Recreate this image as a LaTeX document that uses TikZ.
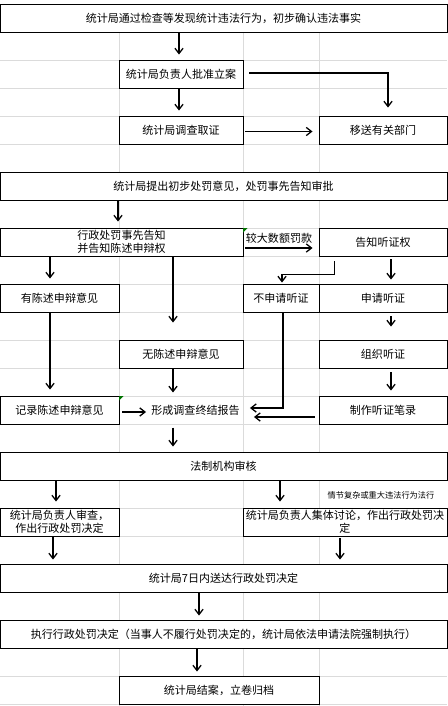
\documentclass[tikz,border=0pt]{standalone}
\usepackage{fontspec}
\setmainfont{Noto Sans CJK SC}
\usetikzlibrary{arrows.meta,calc}
\tikzset{
  box/.style={draw=black,line width=0.8pt,fill=white,inner sep=1pt,align=center,minimum height=0.84cm},
  arr/.style={-{Straight Barb[length=4.5pt,width=7pt]},line width=1.1pt},
  gridline/.style={draw=gray!28,line width=0.5pt},
  note/.style={font=\fontsize{7}{8}\selectfont,inner sep=1pt},
}
\begin{document}
\begin{tikzpicture}[x=0.03cm,y=-0.03cm, every node/.style={font=\fontsize{9.4}{11}\selectfont}]
\useasboundingbox (0,0) rectangle (447,706);
% sheet grid
\foreach \r in {0,...,25} \draw[gridline] (0,4+28*\r) -- (447,4+28*\r);
\foreach \c in {119,243,319} \draw[gridline] (\c,4) -- (\c,706);
% case filing
\node[box,minimum width=13.41cm] (discover) at (223.5,18) {统计局通过检查等发现统计违法行为，初步确认违法事实};
\node[box,minimum width=3.72cm] (approve) at (181,74) {统计局负责人批准立案};
\node[box,minimum width=3.72cm] (investigate) at (181,130) {统计局调查取证};
\node[box,minimum width=3.84cm] (transfer) at (383,130) {移送有关部门};
\draw[arr] ($(discover.south)+(-44.5,0)$) -- ($(approve.north)+(-2,-5)$);
\draw[arr] ($(approve.east)+(6,-1)$) -| ($(transfer.north)+(5,-8)$);
\draw[arr] ($(approve.south)+(-2,0)$) -- ($(investigate.north)+(-2,-5)$);
\draw[arr] ($(investigate.east)+(2,1.5)$) -- ($(transfer.west)+(-6,1.5)$);
% prior notice
\node[box,minimum width=13.41cm] (propose) at (223.5,186) {统计局提出初步处罚意见，处罚事先告知审批};
\node[box,minimum width=7.29cm] (notify) at (121.5,242) {行政处罚事先告知\\并告知陈述申辩权};
\node[box,minimum width=3.84cm] (hearingright) at (383,242) {告知听证权};
\node[box,minimum width=3.57cm] (statement) at (59.5,298) {有陈述申辩意见};
\node[box,minimum width=2.28cm] (nohearing) at (281,298) {不申请听证};
\node[box,minimum width=3.84cm] (applyhearing) at (383,298) {申请听证};
\node[box,minimum width=3.72cm] (nostatement) at (181,354) {无陈述申辩意见};
\node[box,minimum width=3.84cm] (organize) at (383,354) {组织听证};
\node[box,minimum width=3.57cm] (record) at (59.5,410) {记录陈述申辩意见};
\node[inner sep=1pt] (report) at (195.5,410) {形成调查终结报告};
\node[box,minimum width=3.84cm] (hearingrecord) at (383,410) {制作听证笔录};
\draw[arr] ($(propose.south)+(-105.5,0)$) -- ($(notify.north)+(-3.5,-6)$);
\draw[arr] ($(notify.east)+(2,6)$) -- node[above] (largefine) {较大数额罚款} ($(hearingright.west)+(-6,6)$);
\draw[arr] ($(notify.south)+(-71.5,0)$) -- ($(statement.north)+(-9.5,-5)$);
\draw[arr] ($(notify.south)+(51.5,0)$) -- ($(nostatement.north)+(-8,-17)$);
\draw[arr] ($(hearingright.south west)+(16,5)$) |- ($(nohearing.north)+(1,-9)$) -- ($(nohearing.north)+(1,-1)$);
\draw[arr] ($(hearingright.south)+(8,3)$) -- ($(applyhearing.north)+(8,-4)$);
\draw[arr] ($(applyhearing.south)+(8,4)$) -- ($(organize.north)+(8,-13)$);
\draw[arr] ($(organize.south)+(8,4)$) -- ($(hearingrecord.north)+(8,-5)$);
\draw[arr] ($(statement.south)+(-9.5,0)$) -- ($(record.north)+(-9.5,-6)$);
\draw[arr] ($(nostatement.south)+(-8,0)$) -- ($(report.north)+(-22.5,-11)$);
\draw[arr] ($(nohearing.south)+(2,0)$) |- ($(report.east)+(9,-2)$);
\draw[arr] ($(hearingrecord.west)+(-4,7)$) -- ($(report.east)+(13,7)$);
\draw[arr] ($(record.east)+(3,2)$) -- ($(report.west)+(-4,2)$);
% review and decision
\node[box,minimum width=13.41cm] (review) at (223.5,466) {法制机构审核};
\node[note] (note) at (381,495) {情节复杂或重大违法行为法行};
\node[box,minimum width=3.57cm] (headreview) at (59.5,522) {统计局负责人审查，\\作出行政处罚决定};
\node[box,minimum width=6.12cm] (collective) at (345,522) {统计局负责人集体讨论，作出行政处罚决\\定};
\node[box,minimum width=13.41cm] (deliver) at (223.5,578) {统计局7日内送达行政处罚决定};
\node[box,minimum width=13.41cm] (execute) at (223.5,634) {执行行政处罚决定（当事人不履行处罚决定的，统计局依法申请法院强制执行）};
\node[box,minimum width=6cm] (close) at (219,690) {统计局结案，立卷归档};
\draw[arr] ($(report.south)+(-22.5,11)$) -- ($(review.north)+(-50.5,-5)$);
\draw[arr] ($(review.south)+(-167.5,0)$) -- ($(headreview.north)+(-3.5,-6)$);
\draw[arr] ($(review.south)+(56.5,0)$) -- ($(collective.north)+(-65,-6)$);
\draw[arr] ($(headreview.south)+(-6.5,0)$) -- ($(deliver.north)+(-170.5,-4)$);
\draw[arr] ($(collective.south)+(-5,2)$) -- ($(deliver.north)+(116.5,-4)$);
\draw[arr] ($(deliver.south)+(-24.5,0)$) -- ($(execute.north)+(-24.5,-4)$);
\draw[arr] ($(execute.south)+(-26.5,0)$) -- ($(close.north)+(-22,-4)$);
% cell marks
\fill[green!45!black] (243,228) -- (247.5,228) -- (243,232.5) -- cycle;
\fill[green!45!black] (119,396) -- (123.5,396) -- (119,400.5) -- cycle;
\end{tikzpicture}
\end{document}
